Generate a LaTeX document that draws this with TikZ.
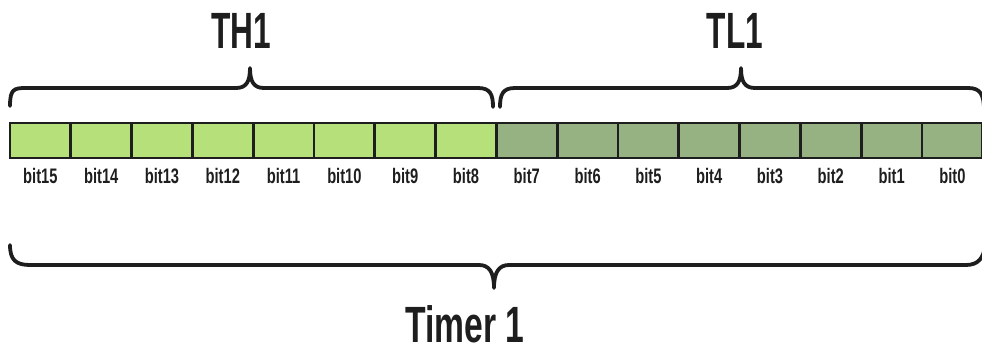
\documentclass[tikz,border=0pt]{standalone}
\usepackage{fontspec}
\setmainfont{Liberation Sans}
\definecolor{lightg}{RGB}{181,224,122}
\definecolor{darkg}{RGB}{151,178,130}
\definecolor{edge}{RGB}{30,30,30}
\tikzset{
  cell/.style={draw=edge, line width=2.8pt, minimum width=60.8pt, minimum height=35pt, inner sep=0pt, outer sep=0pt},
  bitlbl/.style={font=\fontsize{21}{21}\selectfont\bfseries, inner sep=0pt, text=edge},
  title/.style={font=\fontsize{51}{51}\selectfont\bfseries, inner sep=0pt, text=edge, anchor=base},
  bracepath/.style={draw=edge, line width=3.8pt, line cap=round, line join=round}
}
\begin{document}
\begin{tikzpicture}[x=1pt,y=-1pt]
\useasboundingbox (0,0) rectangle (982,351);
% cells
\foreach \i in {0,...,15} {
  \pgfmathtruncatemacro\b{15-\i}
  \ifnum\i<8 \def\fc{lightg}\else\def\fc{darkg}\fi
  \node[cell, fill=\fc, anchor=north west] (c\b) at ({10+60.8*\i},123) {};
  \node[bitlbl] (l\b) at ({40.4+60.8*\i},176) {\scalebox{0.7}[1]{bit\b}};
}
% titles
\node[title] (th) at (241,48) {\scalebox{0.62}[1]{TH1}};
\node[title] (tl) at (735,48) {\scalebox{0.62}[1]{TL1}};
\node[title] (tm) at (465,342) {\scalebox{0.66}[1]{Timer 1}};
% top left brace
\draw[bracepath] (10,106) .. controls (10,89) and (14,88) .. (26,88) -- (236,88)
  .. controls (246,88) and (250,82) .. (250,68) .. controls (250,82) and (254,88) .. (264,88)
  -- (478,88) .. controls (490,88) and (493,94) .. (493,107);
% top right brace
\draw[bracepath] (500,107) .. controls (500,94) and (503,88) .. (515,88) -- (727,88)
  .. controls (737,88) and (741,82) .. (741,68) .. controls (741,82) and (745,88) .. (755,88)
  -- (968,88) .. controls (980,88) and (984,94) .. (984,110);
% bottom brace
\draw[bracepath] (10,245) .. controls (10,260) and (16,265) .. (30,265) -- (479,265)
  .. controls (489,265) and (494,272) .. (494,288) .. controls (494,272) and (499,265) .. (509,265)
  -- (966,265) .. controls (978,265) and (984,258) .. (985,245);
\end{tikzpicture}
\end{document}
